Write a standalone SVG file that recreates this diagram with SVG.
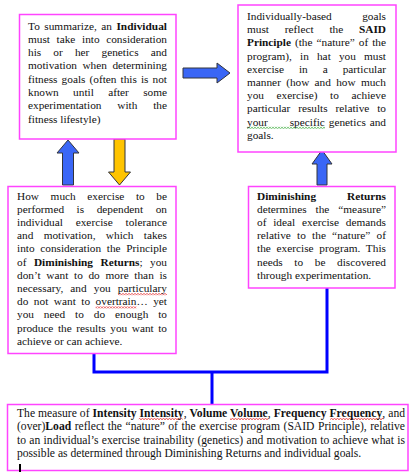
<svg xmlns="http://www.w3.org/2000/svg" width="409" height="472" viewBox="0 0 409 472">
<style>
.box{fill:#fff;stroke:#ff44ff;stroke-width:1.5}
.t{font-family:'Liberation Serif',Tinos,'Times New Roman','DejaVu Serif','Noto Serif',serif;font-size:11.3px;fill:#111}
.t5{font-size:11.6px}
.b{font-weight:bold}
.blk{stroke:#33343a;stroke-width:1;stroke-linejoin:miter}
.blue{fill:#3a66f6}
.yel{fill:#ffc400}
.con{fill:none;stroke:#0000ff;stroke-width:3}
</style>
<defs>
<pattern id="wr" width="3" height="2" patternUnits="userSpaceOnUse"><path d="M0,1.6 L1.5,0.4 L3,1.6" fill="none" stroke="#e01010" stroke-width="0.8"/></pattern>
<pattern id="wg" width="3" height="2" patternUnits="userSpaceOnUse"><path d="M0,1.6 L1.5,0.4 L3,1.6" fill="none" stroke="#20a020" stroke-width="0.8"/></pattern>
</defs>
<rect width="409" height="472" fill="#fff"/>

<g id="connectors">
<path class="con" d="M94,353 V372 H327 V288"/>
<path class="con" d="M212,372 V404"/>
<path class="blk blue" d="M183,68 H217 V63 L230,73 L217,83 V78 H183 Z"/>
<path class="blk blue" d="M68,140 L79,153 H73.5 V185 H62.5 V153 H57 Z"/>
<path class="blk yel" d="M114,139 H125 V172 H130.5 L119.5,185 L108.5,172 H114 Z"/>
<path class="blk blue" d="M322,150 L332,164 H327 V185 H317 V164 H312 Z"/>
</g>

<g id="node-individual" font-family="Liberation Serif, Times New Roman, serif">
<rect class="box" x="19.5" y="14.5" width="156.5" height="124.5"/>
<text class="t" x="28" y="29.5" word-spacing="1.5" textLength="139" lengthAdjust="spacing">To summarize, an <tspan class="b">Individual</tspan></text>
<text class="t" x="28" y="42.8" word-spacing="3.8" textLength="139" lengthAdjust="spacing">must take into consideration</text>
<text class="t" x="28" y="56.1" word-spacing="9.3" textLength="139" lengthAdjust="spacing">his or her genetics and</text>
<text class="t" x="28" y="69.4" word-spacing="2.65" textLength="139" lengthAdjust="spacing">motivation when determining</text>
<text class="t" x="28" y="82.7" word-spacing="1.24" textLength="139" lengthAdjust="spacing">fitness goals (often this is not</text>
<text class="t" x="28" y="96" word-spacing="11.5" textLength="139" lengthAdjust="spacing">known until after some</text>
<text class="t" x="28" y="109.3" word-spacing="13" textLength="139" lengthAdjust="spacing">experimentation with the</text>
<text class="t" x="28" y="122.6">fitness lifestyle)</text>
</g>

<g id="node-said">
<rect class="box" x="238" y="5" width="158" height="147"/>
<text class="t" x="247" y="20" word-spacing="27.6" textLength="139" lengthAdjust="spacing">Individually-based goals</text>
<text class="t" x="247" y="33.2" word-spacing="13" textLength="139" lengthAdjust="spacing">must reflect the <tspan class="b">SAID</tspan></text>
<text class="t" x="247" y="46.4" word-spacing="1.2" textLength="139" lengthAdjust="spacing"><tspan class="b">Principle</tspan> (the “nature” of the</text>
<text class="t" x="247" y="59.6" word-spacing="5.3" textLength="139" lengthAdjust="spacing">program), in hat you must</text>
<text class="t" x="247" y="72.8" word-spacing="12.1" textLength="139" lengthAdjust="spacing">exercise in a particular</text>
<text class="t" x="247" y="86" word-spacing="2.4" textLength="139" lengthAdjust="spacing">manner (how and how much</text>
<text class="t" x="247" y="99.2" word-spacing="9.8" textLength="139" lengthAdjust="spacing">you exercise) to achieve</text>
<text class="t" x="247" y="112.4" word-spacing="5" textLength="139" lengthAdjust="spacing">particular results relative to</text>
<rect x="247" y="126.8" width="78" height="2" fill="url(#wg)"/>
<text class="t" y="125.6"><tspan x="247">your</tspan><tspan x="289.7">specific</tspan><tspan x="328.8">genetics</tspan><tspan x="386" text-anchor="end">and</tspan></text>
<text class="t" x="247" y="138.8">goals.</text>
</g>

<g id="node-how-much">
<rect class="box" x="8" y="186.5" width="168" height="167"/>
<text class="t" x="17" y="199.5" word-spacing="8.8" textLength="150" lengthAdjust="spacing">How much exercise to be</text>
<text class="t" x="17" y="212.7" word-spacing="9.7" textLength="150" lengthAdjust="spacing">performed is dependent on</text>
<text class="t" x="17" y="225.9" word-spacing="10" textLength="150" lengthAdjust="spacing">individual exercise tolerance</text>
<text class="t" x="17" y="239.1" word-spacing="7.5" textLength="150" lengthAdjust="spacing">and motivation, which takes</text>
<text class="t" x="17" y="252.3" word-spacing="2.8" textLength="150" lengthAdjust="spacing">into consideration the Principle</text>
<text class="t" x="17" y="265.5" word-spacing="4.7" textLength="150" lengthAdjust="spacing">of <tspan class="b">Diminishing Returns</tspan>; you</text>
<text class="t" x="17" y="278.7" word-spacing="2.8" textLength="150" lengthAdjust="spacing">don’t want to do more than is</text>
<rect x="118" y="293.2" width="49" height="2" fill="url(#wr)"/>
<text class="t" x="17" y="291.9" word-spacing="4.2" textLength="150" lengthAdjust="spacing">necessary, and you particulary</text>
<rect x="95.6" y="306.4" width="40.8" height="2" fill="url(#wr)"/>
<text class="t" x="17" y="305.1" word-spacing="2.7" textLength="150" lengthAdjust="spacing">do not want to overtrain… yet</text>
<text class="t" x="17" y="318.3" word-spacing="7.1" textLength="150" lengthAdjust="spacing">you need to do enough to</text>
<text class="t" x="17" y="331.5" word-spacing="1.7" textLength="150" lengthAdjust="spacing">produce the results you want to</text>
<text class="t" x="17" y="344.7">achieve or can achieve.</text>
</g>

<g id="node-diminishing">
<rect class="box" x="248.5" y="186.5" width="146.5" height="101.5"/>
<text class="t" x="257" y="200" word-spacing="28.2" textLength="129" lengthAdjust="spacing"><tspan class="b">Diminishing Returns</tspan></text>
<text class="t" x="257" y="213.1" word-spacing="6.1" textLength="129" lengthAdjust="spacing">determines the “measure”</text>
<text class="t" x="257" y="226.2" word-spacing="4" textLength="129" lengthAdjust="spacing">of ideal exercise demands</text>
<text class="t" x="257" y="239.3" word-spacing="3.4" textLength="129" lengthAdjust="spacing">relative to the “nature” of</text>
<text class="t" x="257" y="252.4" word-spacing="2.8" textLength="129" lengthAdjust="spacing">the exercise program. This</text>
<text class="t" x="257" y="265.5" word-spacing="8.8" textLength="129" lengthAdjust="spacing">needs to be discovered</text>
<text class="t" x="257" y="278.6">through experimentation.</text>
</g>

<g id="node-measure">
<rect class="box" x="7.5" y="404.5" width="400.5" height="66"/>
<rect x="138.8" y="418" width="43.8" height="2" fill="url(#wr)"/>
<rect x="230" y="418" width="38.7" height="2" fill="url(#wr)"/>
<rect x="330.2" y="418" width="52.9" height="2" fill="url(#wr)"/>
<text class="t t5" x="17" y="416.5" textLength="388" lengthAdjust="spacing">The measure of <tspan class="b">Intensity Intensity</tspan>, <tspan class="b">Volume Volume</tspan>, <tspan class="b">Frequency Frequency</tspan>, and</text>
<text class="t t5" x="17" y="430" word-spacing="0.6" textLength="388" lengthAdjust="spacing">(over)<tspan class="b">Load</tspan> reflect the “nature” of the exercise program (SAID Principle), relative</text>
<text class="t t5" x="17" y="443.5" word-spacing="0.4" textLength="388" lengthAdjust="spacing">to an individual’s exercise trainability (genetics) and motivation to achieve what is</text>
<text class="t t5" x="17" y="457">possible as determined through Diminishing Returns and individual goals.</text>
<rect x="19" y="464" width="2" height="8" fill="#000"/>
</g>
</svg>
